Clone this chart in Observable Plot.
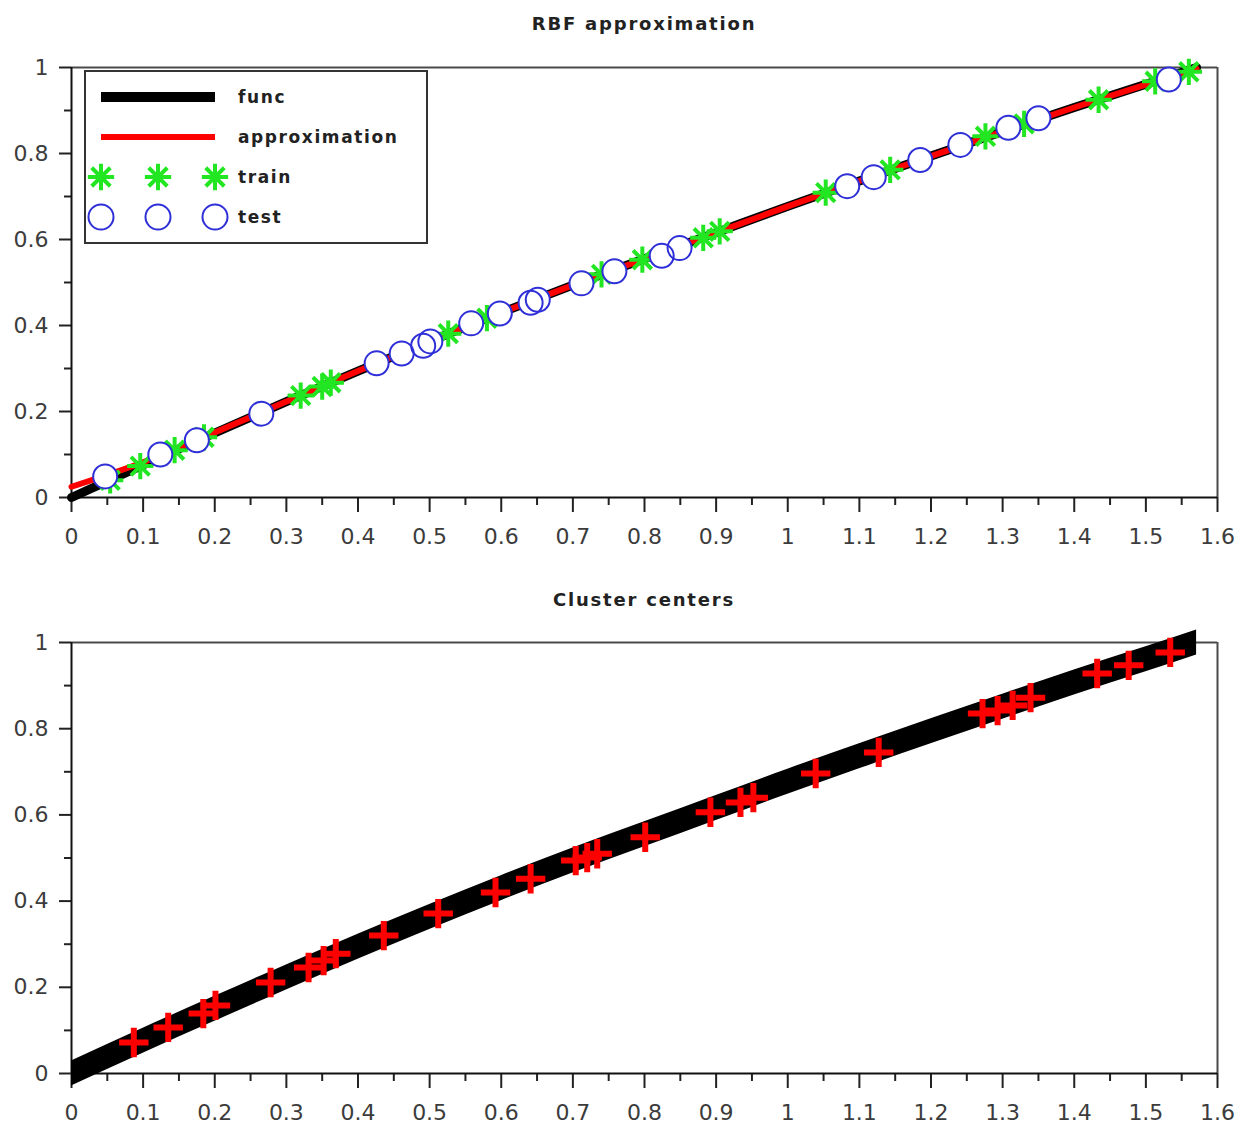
<!DOCTYPE html>
<html><head><meta charset="utf-8">
<script src="https://cdn.jsdelivr.net/npm/d3@7"></script>
<script src="https://cdn.jsdelivr.net/npm/@observablehq/plot@0.6"></script>
<style>
body{margin:0;background:#fff;}
#wrap{position:relative;width:1248px;height:1127px;background:#fff;overflow:hidden;}
.title{position:absolute;left:40px;width:1208px;text-align:center;font-family:"DejaVu Sans";font-weight:bold;font-size:18px;letter-spacing:1.8px;color:#222;line-height:22px;}
</style></head><body><div id="wrap"></div>
<script>
// ---- data ----
const titles = ["RBF approximation", "Cluster centers"];
const xTicks = [0, 0.1, 0.2, 0.3, 0.4, 0.5, 0.6, 0.7, 0.8, 0.9, 1, 1.1, 1.2, 1.3, 1.4, 1.5, 1.6];
const xLabels = ["0","0.1","0.2","0.3","0.4","0.5","0.6","0.7","0.8","0.9","1","1.1","1.2","1.3","1.4","1.5","1.6"];
const xMinor = [0.05, 0.15, 0.25, 0.35, 0.45, 0.55, 0.65, 0.75, 0.85, 0.95, 1.05, 1.15, 1.25, 1.35, 1.45, 1.55];
const yTicks = [0, 0.2, 0.4, 0.6, 0.8, 1];
const yLabels = ["0","0.2","0.4","0.6","0.8","1"];
const yMinor = [0.1, 0.3, 0.5, 0.7, 0.9];

const funcX   = [0, 0.1, 0.2, 0.3, 0.4, 0.5, 0.6, 0.7, 0.8, 0.9, 1.0, 1.1, 1.2, 1.3, 1.4, 1.5, 1.5708];
const funcY   = [0, 0.076, 0.150, 0.223, 0.294, 0.363, 0.430, 0.494, 0.555, 0.616, 0.677, 0.736, 0.794, 0.851, 0.907, 0.961, 1.0];
const approxY = [0.025, 0.082, 0.151, 0.223, 0.294, 0.363, 0.430, 0.494, 0.555, 0.616, 0.677, 0.736, 0.794, 0.851, 0.907, 0.960, 0.997];

const trainX = [0.054, 0.096, 0.144, 0.185, 0.32, 0.35, 0.362, 0.526, 0.58, 0.74, 0.797, 0.882, 0.905, 1.053, 1.143, 1.276, 1.33, 1.434, 1.513, 1.56];
const trainY = [0.040, 0.073, 0.110, 0.140, 0.237, 0.258, 0.267, 0.381, 0.417, 0.519, 0.553, 0.604, 0.619, 0.709, 0.762, 0.840, 0.869, 0.925, 0.968, 0.99];

const testX = [0.047, 0.124, 0.175, 0.265, 0.426, 0.461, 0.491, 0.501, 0.558, 0.598, 0.641, 0.651, 0.712, 0.758, 0.824, 0.849, 1.083, 1.120, 1.185, 1.241, 1.308, 1.350, 1.532];
const testY = [0.049, 0.100, 0.133, 0.195, 0.312, 0.335, 0.353, 0.363, 0.405, 0.428, 0.453, 0.460, 0.498, 0.526, 0.562, 0.580, 0.724, 0.745, 0.785, 0.820, 0.860, 0.882, 0.972];

const centerX = [0.087, 0.135, 0.184, 0.201, 0.278, 0.331, 0.352, 0.369, 0.436, 0.512, 0.592, 0.641, 0.704, 0.720, 0.734, 0.801, 0.892, 0.934, 0.952, 1.039, 1.127, 1.272, 1.293, 1.314, 1.339, 1.432, 1.476, 1.534];
const centerY = [0.072, 0.107, 0.139, 0.158, 0.211, 0.246, 0.262, 0.278, 0.320, 0.371, 0.420, 0.452, 0.494, 0.501, 0.510, 0.548, 0.606, 0.629, 0.640, 0.696, 0.745, 0.835, 0.842, 0.854, 0.872, 0.928, 0.947, 0.977];

const legendLabels = ["func", "approximation", "train", "test"];

// ---- tables ----
const func = funcX.map((x, i) => ({x, y: funcY[i]}));
const approx = funcX.map((x, i) => ({x, y: approxY[i]}));
const train = trainX.map((x, i) => ({x, y: trainY[i]}));
const test = testX.map((x, i) => ({x, y: testY[i]}));
const centers = centerX.map((x, i) => ({x, y: centerY[i]}));

const GREEN = "#22e622", BLUE = "#2f2fd8", RED = "#ff0000";
const BAND = 0.029;
const wrap = document.getElementById("wrap");

function frameMarks() {
  return [
    Plot.ruleY([1], {stroke: "#4a4a4a", strokeWidth: 2}),
    Plot.ruleX([1.6], {stroke: "#4a4a4a", strokeWidth: 2}),
    Plot.axisY({ticks: yMinor, tickSize: 7, tickFormat: () => "", stroke: "#222", strokeWidth: 2}),
    Plot.axisY({ticks: yTicks, tickSize: 12, tickPadding: 11, tickFormat: d => yLabels[yTicks.indexOf(d)], stroke: "#222", strokeWidth: 2}),
    Plot.axisX({ticks: xMinor, tickSize: 8, tickFormat: () => "", stroke: "#222", strokeWidth: 2}),
    Plot.axisX({ticks: xTicks, tickSize: 15, tickPadding: 16, tickFormat: d => xLabels[xTicks.indexOf(d)], stroke: "#222", strokeWidth: 2}),
    Plot.ruleY([0], {stroke: "#111", strokeWidth: 2}),
    Plot.ruleX([0], {stroke: "#111", strokeWidth: 2})
  ];
}

function panel(marks, top, height, mt, mb) {
  const p = Plot.plot({
    width: 1248, height,
    marginLeft: 71, marginRight: 31, marginTop: mt, marginBottom: mb,
    x: {domain: [0, 1.6], label: null},
    y: {domain: [0, 1], label: null},
    style: {fontFamily: "DejaVu Sans", fontSize: "22px", color: "#3c3c3c", background: "transparent", overflow: "visible"},
    marks: [...frameMarks(), ...marks]
  });
  p.style.position = "absolute";
  p.style.left = "0px";
  p.style.top = top + "px";
  wrap.append(p);
}

// top panel
panel([
  Plot.line(func, {x: "x", y: "y", stroke: "black", strokeWidth: 9, curve: "monotone-x"}),
  Plot.line(approx, {x: "x", y: "y", stroke: RED, strokeWidth: 6, curve: "monotone-x"}),
  Plot.dot(train, {x: "x", y: "y", symbol: "plus", r: 8.5, stroke: GREEN, strokeWidth: 4}),
  Plot.dot(train, {x: "x", y: "y", symbol: "times", r: 8.5, stroke: GREEN, strokeWidth: 4}),
  Plot.dot(test, {x: "x", y: "y", r: 12, fill: "white", stroke: null}),
  Plot.dot(test, {x: "x", y: "y", r: 12, fill: "none", stroke: BLUE, strokeWidth: 2})
], 0, 560, 67, 63);

// bottom panel
panel([
  Plot.areaY(func, {x: "x", y1: d => d.y - BAND, y2: d => d.y + BAND, fill: "black", curve: "monotone-x"}),
  Plot.dot(centers, {x: "x", y: "y", symbol: "plus", r: 9.5, stroke: RED, strokeWidth: 6})
], 560, 567, 82, 54);

// titles
[[titles[0], 13], [titles[1], 589]].forEach(([t, top]) => {
  const d = document.createElement("div");
  d.className = "title";
  d.style.top = top + "px";
  d.textContent = t;
  wrap.append(d);
});

// legend
const leg = d3.select(wrap).append("svg")
  .attr("width", 346).attr("height", 176)
  .style("position", "absolute").style("left", "83px").style("top", "69px");
leg.append("rect").attr("x", 2).attr("y", 2).attr("width", 342).attr("height", 172)
  .attr("fill", "white").attr("stroke", "#333").attr("stroke-width", 2);
const gx = [18, 75, 132];
const rows = [28, 68, 108, 148];
leg.append("line").attr("x1", 18).attr("x2", 132).attr("y1", rows[0]).attr("y2", rows[0]).attr("stroke", "black").attr("stroke-width", 10);
leg.append("line").attr("x1", 18).attr("x2", 132).attr("y1", rows[1]).attr("y2", rows[1]).attr("stroke", RED).attr("stroke-width", 6);
const plusPath = d3.symbol(d3.symbolPlus, Math.PI * 8.5 * 8.5)();
const timesPath = d3.symbol(d3.symbolTimes, Math.PI * 8.5 * 8.5)();
gx.forEach(x => {
  [plusPath, timesPath].forEach(p => leg.append("path").attr("d", p)
    .attr("transform", `translate(${x},${rows[2]})`).attr("fill", "none").attr("stroke", GREEN).attr("stroke-width", 4));
  leg.append("circle").attr("cx", x).attr("cy", rows[3]).attr("r", 12.5).attr("fill", "white").attr("stroke", BLUE).attr("stroke-width", 2);
});
legendLabels.forEach((t, i) => {
  leg.append("text").attr("x", 155).attr("y", rows[i]).attr("dy", "0.35em")
    .attr("font-family", "DejaVu Sans").attr("font-weight", "bold").attr("font-size", 17)
    .attr("letter-spacing", "1.6px").attr("fill", "#222").text(t);
});
</script>
</body></html>
